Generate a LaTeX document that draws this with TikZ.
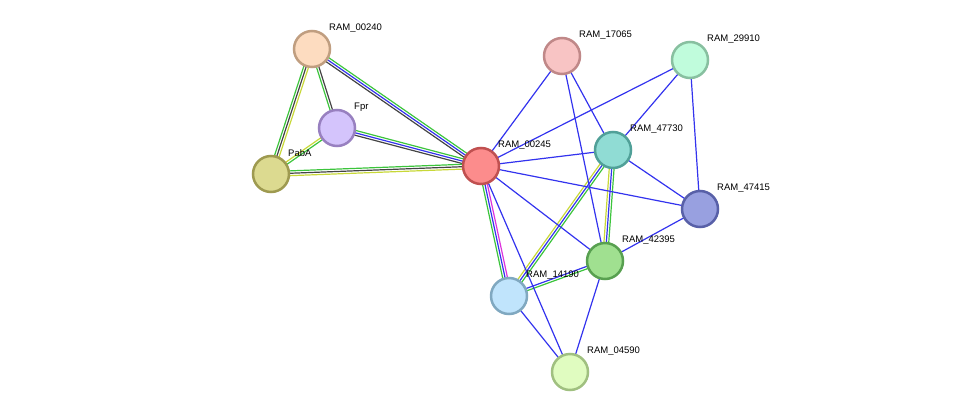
\documentclass[tikz,border=0pt]{standalone}
\usepackage{fontspec}
\setmainfont{Liberation Sans}
\usetikzlibrary{calc}
\definecolor{cgreen}{HTML}{3CC43C}
\definecolor{cblue}{HTML}{3333EE}
\definecolor{cblack}{HTML}{444444}
\definecolor{cyellow}{HTML}{C8D838}
\definecolor{cpink}{HTML}{DD33DD}
\tikzset{
  prot/.style={circle,minimum size=36pt,line width=2.5pt,inner sep=0pt},
  plab/.style={anchor=west,font=\fontsize{9.5pt}{11pt}\selectfont,inner sep=1pt},
  edge/.style={line width=1.2pt},
}
% parallel lines between two coordinates: offset in pt, colour
\newcommand\pline[4]{\draw[edge,#4] ($(#1)!#3!90:(#2)$) -- ($(#2)!#3!-90:(#1)$);}
\newcommand\prot[4]{\definecolor{f#1}{HTML}{#2}\definecolor{d#1}{HTML}{#3}%
  \node[prot,fill=f#1,draw=d#1] (#1) at (p#1) {};
  \node[plab] (l#1) at ($(p#1)+(16,-21)$) {#4};}
\begin{document}
\begin{tikzpicture}[x=1pt,y=-1pt]
\useasboundingbox (0,0) rectangle (976,417);
\coordinate (pa240) at (312,49);
\coordinate (pfpr) at (337,128);
\coordinate (ppaba) at (271,174);
\coordinate (pa245) at (481,166);
\coordinate (pa17065) at (562,56);
\coordinate (pa29910) at (690,60);
\coordinate (pa47730) at (613,150);
\coordinate (pa47415) at (700,209);
\coordinate (pa42395) at (605,261);
\coordinate (pa14190) at (509,296);
\coordinate (pa04590) at (570,372);
% Edges
\pline{pa240}{ppaba}{-2.4pt}{cgreen}
\pline{pa240}{ppaba}{0pt}{cblack}
\pline{pa240}{ppaba}{2.4pt}{cyellow}
\pline{pa240}{pfpr}{-1.2pt}{cgreen}
\pline{pa240}{pfpr}{1.2pt}{cblack}
\pline{pa240}{pa245}{2.4pt}{cgreen}
\pline{pa240}{pa245}{0pt}{cblue}
\pline{pa240}{pa245}{-2.4pt}{cblack}
\pline{pfpr}{ppaba}{-1.2pt}{cyellow}
\pline{pfpr}{ppaba}{1.2pt}{cgreen}
\pline{pfpr}{pa245}{2.4pt}{cgreen}
\pline{pfpr}{pa245}{0pt}{cblue}
\pline{pfpr}{pa245}{-2.4pt}{cblack}
\pline{ppaba}{pa245}{2.4pt}{cgreen}
\pline{ppaba}{pa245}{0pt}{cblack}
\pline{ppaba}{pa245}{-2.4pt}{cyellow}
\pline{pa245}{pa14190}{2.4pt}{cpink}
\pline{pa245}{pa14190}{0pt}{cblue}
\pline{pa245}{pa14190}{-2.4pt}{cgreen}
\pline{pa47730}{pa14190}{2.4pt}{cgreen}
\pline{pa47730}{pa14190}{0pt}{cblue}
\pline{pa47730}{pa14190}{-2.4pt}{cyellow}
\pline{pa47730}{pa42395}{2.4pt}{cgreen}
\pline{pa47730}{pa42395}{0pt}{cblue}
\pline{pa47730}{pa42395}{-2.4pt}{cyellow}
\pline{pa42395}{pa14190}{1.2pt}{cgreen}
\pline{pa42395}{pa14190}{-1.2pt}{cblue}
\foreach \a/\b in {a245/a04590,a245/a42395,a245/a47415,a245/a47730,a245/a17065,
  a245/a29910,a17065/a47730,a17065/a42395,a29910/a47730,a29910/a47415,
  a47730/a47415,a42395/a47415,a42395/a04590,a14190/a04590}
  \draw[edge,cblue] (p\a) -- (p\b);
% Nodes
\prot{a240}{FDDCC0}{C09E80}{RAM\_00240}
\prot{fpr}{D4C4FC}{9880C0}{Fpr}
\prot{paba}{DCDA90}{9E9A50}{PabA}
\prot{a245}{FC8C8C}{C05050}{RAM\_00245}
\prot{a17065}{F8C4C4}{C08888}{RAM\_17065}
\prot{a29910}{C0FCDC}{88C0A0}{RAM\_29910}
\prot{a47730}{90DCD4}{50A098}{RAM\_47730}
\prot{a47415}{98A0E0}{5860A8}{RAM\_47415}
\prot{a42395}{A0E090}{58A050}{RAM\_42395}
\prot{a14190}{C0E4FC}{80A8C0}{RAM\_14190}
\prot{a04590}{E0FCC0}{A0C080}{RAM\_04590}
\end{tikzpicture}
\end{document}
